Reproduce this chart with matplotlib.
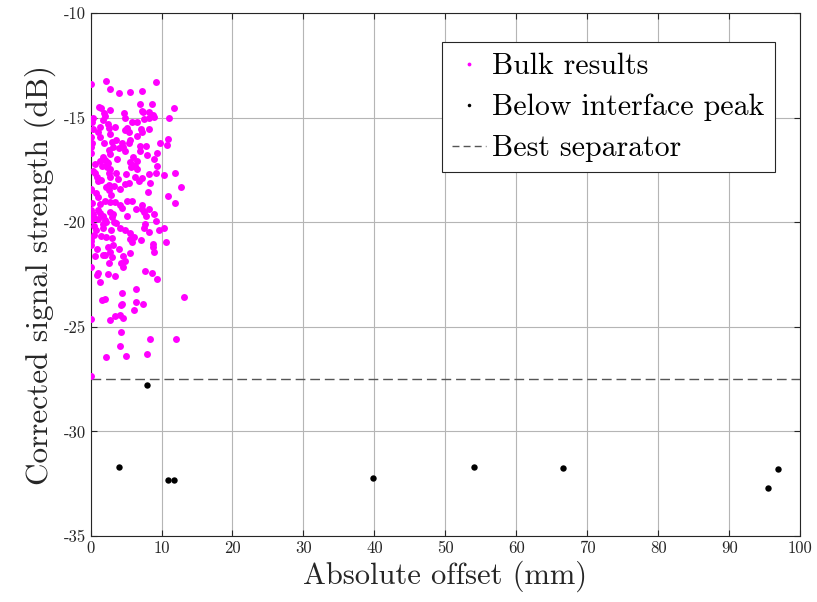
import matplotlib
matplotlib.use("Agg")
import matplotlib.pyplot as plt
from matplotlib.legend_handler import HandlerLine2D
import numpy as np

plt.rcParams["font.family"] = ["cmr10", "DejaVu Serif"]
plt.rcParams["axes.unicode_minus"] = False
plt.rcParams["axes.formatter.use_mathtext"] = False

# Bulk measurements: (absolute offset mm, corrected signal dB)
bulk_x = [
    0.1, 2.2, 2.8, 4.0, 5.6, 7.2, 9.2, 7.0, 8.7, 11.7, 1.2, 1.5, 2.8, 1.9, 2.1, 4.7,
    7.2, 7.4, 8.3, 8.8, 9.0, 8.2, 0.4, 0.2, 4.9, 5.9, 6.5, 7.6, 11.1, 1.4, 2.4, 2.6,
    5.1, 4.9, 7.1, 7.3, 8.3, 1.1, 2.8, 5.4,
    0.1, 0.2, 0.1, 0.1, 1.4, 1.9, 3.0, 3.6, 4.4, 4.0, 3.1, 2.6, 2.7, 6.6, 5.5, 5.4,
    4.6, 7.0, 7.8, 7.0, 8.0, 9.8, 10.8, 10.9, 9.3, 9.0, 9.4, 9.2, 1.7, 1.4, 2.1, 2.5,
    1.6, 2.3, 2.8, 5.5, 5.9, 6.5, 6.3, 5.7, 6.6, 0.3, 0.7, 0.9, 1.5, 1.1, 2.6, 2.7,
    3.6, 3.9, 2.6, 3.3, 6.3, 7.3, 8.3, 8.4, 10.3, 11.9, 5.4, 4.9, 0.1, 2.2, 12.7,
    0.0, 0.8, 2.6, 4.1, 8.1, 10.9, 11.9, 2.0, 2.7, 3.5, 5.2, 4.5, 6.4, 7.2, 7.3, 8.2,
    0.1, 1.0, 0.4, 1.3, 1.7, 0.0, 0.5, 1.1, 2.0, 2.7, 3.0, 5.2, 7.6, 1.7, 2.2, 3.3,
    9.2, 4.2, 4.9, 5.6, 7.7, 7.6, 8.3, 9.6, 10.4, 0.8, 0.5, 1.5, 2.2, 0.1, 0.0, 2.9,
    3.0, 5.5, 5.8, 7.1, 8.8, 10.7,
    0.0, 3.2, 8.8, 9.0, 0.6, 1.7, 2.0, 2.7, 3.0, 4.6, 5.6, 4.9, 4.3, 2.6, 4.6, 0.0,
    1.1, 0.9, 2.5, 3.5, 1.4, 7.7, 8.6, 9.3, 6.4, 4.5, 2.0, 1.6, 13.1,
    6.4, 7.4, 4.3, 4.4, 6.1, 3.4, 4.1, 4.6, 2.7, 0.0, 4.3, 8.4, 12.1, 4.1, 2.2, 5.0,
    7.9, 0.1,
    # densely packed points in the core of the cloud
    0.3, 1.8, 3.4, 4.8, 6.0, 0.6, 2.3, 3.8, 5.0, 6.8, 1.0, 2.9, 4.2, 0.2, 1.3, 3.1,
    5.8, 7.8, 0.5, 1.8, 3.6, 6.1, 8.9, 0.9, 2.4, 4.0,
]
bulk_y = [
    -13.40, -13.23, -13.65, -13.82, -13.78, -13.73, -13.28, -14.33, -14.37, -14.56,
    -14.49, -14.52, -14.65, -14.80, -14.90, -14.78, -14.70, -14.75, -14.75, -14.88,
    -14.97, -15.00, -15.00, -15.23, -15.03, -15.20, -15.23, -15.07, -15.03, -15.43,
    -15.32, -15.48, -15.48, -15.61, -15.55, -15.67, -15.55, -15.70, -15.80, -15.70,
    -15.94, -16.23, -16.39, -16.67, -15.94, -16.23, -16.16, -16.07, -16.23, -16.45,
    -16.42, -16.55, -16.74, -15.90, -16.07, -16.23, -16.42, -16.35, -16.35, -16.58,
    -16.80, -16.23, -16.32, -16.04, -16.70, -16.99, -17.31, -17.63, -16.86, -17.06,
    -17.02, -17.18, -17.31, -17.37, -17.44, -17.12, -17.25, -17.06, -17.31, -17.37,
    -17.47, -17.57, -17.66, -17.85, -17.98, -18.04, -17.63, -17.82, -17.63, -17.95,
    -18.20, -18.27, -17.85, -17.88, -17.69, -18.14, -17.76, -17.63, -18.11, -18.17,
    -18.39, -18.33, -18.33,
    -18.47, -18.60, -18.47, -18.41, -18.57, -18.73, -19.08, -18.98, -19.02, -19.05,
    -18.98, -19.34, -19.37, -19.18, -19.37, -19.37, -19.40, -19.40, -19.62, -19.56,
    -19.72, -19.88, -19.81, -19.85, -19.88, -19.53, -19.75, -19.69, -19.50, -20.07,
    -20.00, -19.97, -19.94, -20.26, -20.36, -20.51, -20.10, -20.26, -20.48, -20.39,
    -20.26, -20.39, -20.61, -20.64, -20.71, -20.74, -20.90, -20.36, -20.74, -20.80,
    -20.96, -20.83, -21.06, -20.93,
    -21.07, -21.10, -21.17, -21.42, -21.61, -21.58, -21.55, -21.42, -21.68, -21.61,
    -21.49, -21.84, -21.97, -21.97, -22.16, -22.16, -22.44, -22.54, -22.48, -22.57,
    -22.86, -22.32, -22.44, -22.70, -23.18, -23.40, -23.65, -23.72, -23.59,
    -23.83, -23.89, -23.96, -23.89, -24.18, -24.47, -24.44, -24.60, -24.69, -24.63,
    -25.23, -25.58, -25.58, -25.90, -26.44, -26.38, -26.28, -27.34,
    -15.55, -15.10, -15.45, -16.60, -16.90, -17.20, -17.10, -17.00, -17.70, -18.05,
    -18.80, -18.70, -19.20, -19.10, -19.15, -19.60, -19.00, -19.70, -20.20, -20.30,
    -20.05, -20.70, -19.60, -21.30, -21.20, -21.30,
]

# Points below the interface peak
peak_x = [7.9, 4.0, 10.9, 11.7, 39.8, 54.0, 66.5, 95.5, 96.8]
peak_y = [-27.8, -31.7, -32.3, -32.3, -32.25, -31.7, -31.75, -32.7, -31.8]

separator_db = -27.5

fig = plt.figure(figsize=(8.17, 6.02), dpi=100)
ax = fig.add_axes([0.1108, 0.1096, 0.8688, 0.8688])

ax.plot(bulk_x, bulk_y, "o", color="#ff00ff", markersize=5.0,
        markeredgewidth=0, label="Bulk results", zorder=3)
ax.plot(peak_x, peak_y, "o", color="black", markersize=4.6,
        markeredgewidth=0, label="Below interface peak", zorder=3)
sep_line = ax.axhline(separator_db, color="#555555", linestyle=(0, (7, 3.5)),
                      linewidth=1.0, label="Best separator", zorder=2)

ax.set_xlim(0, 100)
ax.set_ylim(-35, -10)
ax.set_xticks(np.arange(0, 101, 10))
ax.set_yticks(np.arange(-35, -9, 5))
ax.grid(True, color="#b5b5b5", linewidth=0.8)
ax.set_axisbelow(True)
ax.tick_params(direction="in", top=True, right=True, length=4,
               labelsize=12, colors="#262626", width=0.8)
for s in ax.spines.values():
    s.set_color("#262626")
    s.set_linewidth(0.8)

ax.set_xlabel("Absolute offset (mm)", fontsize=22, color="#262626", labelpad=3)
ax.set_ylabel("Corrected signal strength (dB)", fontsize=22.5, color="#262626", labelpad=5)


def short_dashes(handle, orig):
    handle.update_from(orig)
    handle.set_dashes((5, 3))


leg = ax.legend(loc="upper right", bbox_to_anchor=(0.9645, 0.944), fontsize=21.5,
                frameon=True, fancybox=False, framealpha=1, edgecolor="#262626",
                handlelength=1.15, handletextpad=0.2, borderpad=0.35,
                labelspacing=0.45, markerscale=0.55, borderaxespad=0,
                handler_map={sep_line: HandlerLine2D(update_func=short_dashes)})
leg.get_frame().set_linewidth(0.8)

fig.savefig("out.png", dpi=100)
